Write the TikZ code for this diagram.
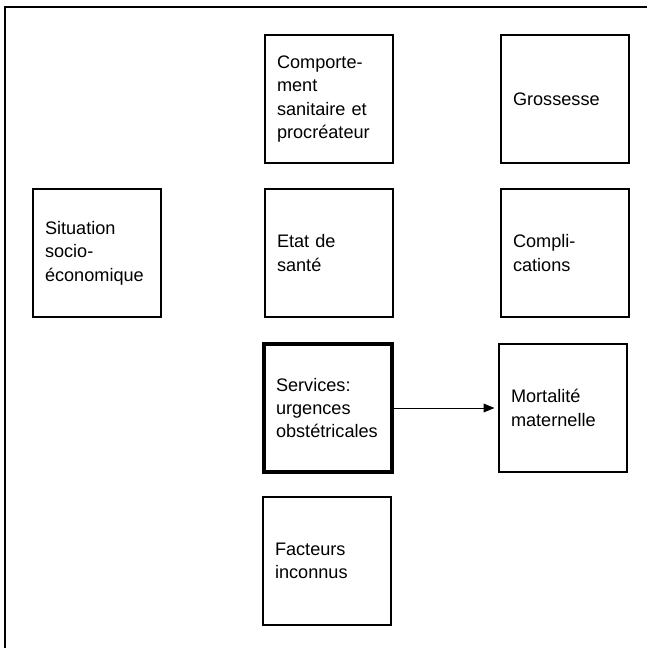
\documentclass[tikz,border=0pt]{standalone}
\usepackage{fontspec}
\setmainfont{Liberation Sans}
\usepackage{tikz}
\usetikzlibrary{arrows.meta,positioning}

\begin{document}
\begin{tikzpicture}[x=0.75pt,y=-0.75pt,
    box/.style={draw,rectangle,line width=0.9pt,minimum width=96pt,minimum height=96pt,
      text width=78pt,inner xsep=9pt,align=left,font=\fontsize{13.6}{17.6}\selectfont},
    keybox/.style={box,line width=3pt}]
  \useasboundingbox (0,0) rectangle (647,648);
  \draw[line width=1pt] (647,7) -- (5,7) -- (5,648);
  \node[box] (comp) at (329,99) {Comporte-\\ment\\sanitaire et\\procréateur};
  \node[box] (gros) at (565,99) {Grossesse};
  \node[box] (situ) at (97,253) {Situation\\socio-\\économique};
  \node[box] (etat) at (329,253) {Etat de\\santé};
  \node[box] (compl) at (565,253) {Compli-\\cations};
  \node[keybox] (serv) at (328,408) {Services:\\urgences\\obstétricales};
  \node[box] (mort) at (563,408) {Mortalité\\maternelle};
  \node[box] (fact) at (327,561) {Facteurs\\inconnus};
  \draw[-{Triangle[length=8pt,width=6.5pt]},line width=0.6pt,shorten >=3pt] (serv) -- (mort);
\end{tikzpicture}
\end{document}
